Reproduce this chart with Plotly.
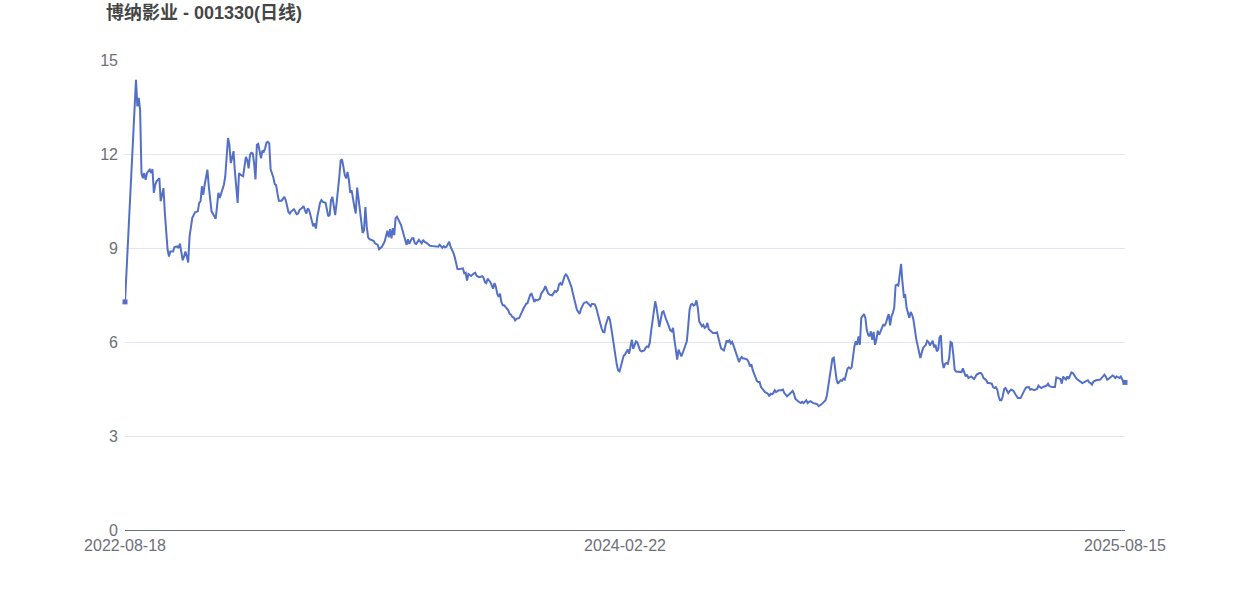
import plotly.graph_objects as go

# trading-day index (0 = 2022-08-18, 728 = 2025-08-15) and daily close
day = [
    0, 8, 9, 10, 11, 12, 13, 14, 15, 16, 17, 18, 19, 20, 21, 22, 23, 25, 26, 27, 28, 29, 30, 31, 32, 33, 35, 36, 38, 39,
    40, 41, 42, 43, 44, 45, 46, 47, 48, 49, 51, 53, 54, 55, 56, 57, 58, 59, 60, 61, 62, 63, 65, 66, 67, 68, 69, 70, 71, 72,
    73, 74, 75, 76, 77, 78, 79, 80, 81, 82, 83, 84, 86, 87,
    88, 89, 90, 91, 92, 93, 94, 95, 96, 97, 98, 99, 100, 101, 102, 103, 104, 105, 106, 107, 108, 109, 110, 111, 112, 114,
    115, 116, 117, 118, 119, 120, 121, 123, 124, 125, 126, 127, 129, 130, 131, 132, 133, 134, 135, 136, 137, 138, 139, 140,
    141, 142, 143, 144, 146, 147, 148, 149, 150, 151, 152, 153, 154, 155, 156, 157, 158, 159, 160, 161, 162, 163, 164, 165,
    166, 167, 168, 169, 170, 171, 172, 173, 174, 175,
    176, 177, 178, 179, 181, 182, 184, 185, 186, 187, 189, 190, 191, 192, 193, 194, 195, 196, 197, 198, 199, 200, 201, 203,
    204, 205, 206, 207, 208, 209, 210, 211, 212, 214, 215, 216, 217, 218, 220, 221, 222, 224, 226, 228, 229, 231, 232, 233,
    234, 235, 236, 237, 238, 239, 240, 241, 242, 243, 245, 246, 247, 248, 249, 250, 251, 252, 254, 255, 256, 257, 258, 260, 261,
    262, 263, 264, 266, 267, 268, 269, 270, 271, 272, 273, 274, 275, 276, 277, 279, 280, 281, 282, 283, 284, 285, 287, 288,
    289, 290, 291, 292, 293, 294, 295, 296, 297, 298, 299, 300, 301, 302, 303, 304, 305, 306, 307, 308, 309, 311, 312, 313,
    314, 315, 316, 317, 318, 319, 320, 321, 322, 323, 324, 325, 326, 327, 328, 329, 330, 331, 332, 333, 334, 336, 337, 338,
    339, 340, 342, 343, 344, 345, 346, 347, 348, 349,
    350, 352, 353, 354, 355, 356, 357, 358, 359, 360, 361, 362, 363, 364, 365, 366, 367, 368, 369, 370, 371, 372, 373, 374,
    375, 376, 378, 379, 380, 381, 382, 383, 384, 385, 386, 387, 388, 389, 390, 391, 392, 393, 394, 395, 396, 397, 398, 399,
    400, 401, 402, 403, 404, 405, 406, 407, 408, 409, 410, 411, 412, 413, 414, 415, 416, 417, 418, 419, 420, 421, 422, 423,
    424, 425, 426, 427, 428, 430, 431, 432, 433,
    434, 436, 437, 438, 439, 440, 441, 442, 443, 444, 445, 446, 447, 448, 449, 450, 451, 453, 454, 455, 456, 457, 458, 459,
    460, 461, 462, 463, 464, 465, 466, 468, 469, 470, 471, 472, 473, 474, 475, 476, 478, 479, 480, 481, 482, 484, 485, 486,
    487, 488, 490, 491, 492, 493, 494, 496, 497, 498, 499, 501, 502, 503, 504, 505, 507, 508, 509, 510, 511, 512, 513, 514,
    515, 516, 517, 518, 519, 520, 521, 522, 523, 524,
    525, 526, 527, 528, 529, 530, 531, 532, 533, 534, 535, 536, 537, 538, 539, 540, 541, 542, 543, 544, 545, 546, 547, 548,
    549, 550, 551, 552, 553, 554, 555, 556, 557, 558, 559, 560, 561, 562, 563, 564, 565, 566, 567, 568, 569, 570, 571, 572,
    573, 574, 575, 576, 577, 578, 579, 580, 581, 582, 583, 584, 585, 586, 587, 588, 589, 590, 591, 592, 593, 594, 595, 596,
    597, 598, 599, 600, 601, 602, 603, 604, 605, 606, 607, 608, 609, 610, 611,
    612, 613, 614, 616, 617, 618, 619, 620, 622, 623, 624, 625, 627, 628, 629, 630, 631, 632, 633, 634, 635, 636, 637, 638,
    639, 640, 641, 642, 643, 644, 645, 646, 647, 648, 649, 650, 652, 653, 654, 655, 656, 658, 659, 660, 661, 662, 664, 665,
    666, 667, 668, 670, 671, 672, 673, 675, 676, 677, 678, 679, 680, 681, 682, 683, 684, 685, 686, 687, 688, 689, 690, 691,
    692, 693, 694, 696, 697, 698, 699, 701, 702, 703, 704, 705, 707, 708, 709, 710, 712, 713, 714, 715, 716, 718, 719, 720,
    721, 722, 724, 725, 726, 727, 728,
]

close = [
    7.28, 14.37, 13.52, 13.79, 13.40, 11.39, 11.23, 11.39, 11.18, 11.39, 11.45, 11.50, 11.39, 11.52, 10.76, 11.02, 11.13,
    11.23, 10.49, 10.76, 10.91, 10.12, 9.59, 8.95, 8.73, 8.89, 8.89, 9.03, 9.05, 9.00,
    9.14, 8.86, 8.61, 8.73, 8.89, 8.73, 8.54, 9.37, 9.69, 9.96, 10.14, 10.17, 10.44, 10.49, 10.97, 10.70, 11.02, 11.23,
    11.50, 10.97, 10.44, 10.17, 10.01, 9.93, 10.33, 10.76, 10.60, 10.73, 10.86, 11.02,
    11.29, 11.82, 12.51, 12.30, 11.71, 11.87, 12.09, 11.45, 10.86, 10.44, 11.39, 11.34, 11.29, 11.55,
    11.91, 11.81, 11.54, 11.97, 12.04, 12.02, 11.70, 11.19, 12.29, 12.32, 12.02, 11.86, 12.11, 12.07, 12.18, 12.36, 12.39,
    12.34, 11.51, 11.38, 11.25, 11.04, 11.01, 10.74, 10.51, 10.51,
    10.58, 10.63, 10.53, 10.34, 10.15, 10.10, 10.17, 10.24, 10.15, 10.08, 10.10, 10.21, 10.28, 10.34, 10.21, 10.10, 10.26,
    10.21, 10.05, 9.83, 9.69, 9.78, 9.62, 9.99,
    10.26, 10.44, 10.53, 10.47, 10.44, 10.21, 10.01, 10.05, 10.53, 10.63, 10.31, 10.05, 10.42, 10.79, 11.27, 11.79, 11.83,
    11.59, 11.33, 11.22, 11.43, 11.17, 10.76, 10.84,
    10.53, 10.31, 10.10, 10.93, 10.58, 10.15, 9.73, 9.48, 9.57, 10.31,
    9.68, 9.34, 9.28, 9.26, 9.23, 9.15, 9.10, 8.96, 8.99, 9.04, 9.20, 9.36, 9.55, 9.34, 9.60, 9.31, 9.63, 9.41, 9.95, 10.00,
    9.89, 9.81, 9.73, 9.41,
    9.20, 9.10, 9.28, 9.13, 9.23, 9.31, 9.31, 9.15, 9.13, 9.26, 9.20, 9.15, 9.26, 9.20, 9.15, 9.09, 9.07, 9.06, 9.04, 9.04,
    9.10, 9.01, 9.06, 9.02,
    9.04, 9.15, 9.20, 9.04, 8.96, 8.85, 8.72, 8.51, 8.33, 8.32, 8.33, 8.35, 8.19, 8.21, 7.96, 8.17, 8.14, 8.11, 8.19, 8.21,
    8.11, 8.09, 8.07, 8.10, 8.05,
    7.91, 7.88, 8.02, 7.91, 7.81, 7.70, 7.88, 7.76, 7.54, 7.44, 7.54, 7.28, 7.17, 7.17, 7.12, 7.01, 6.90, 6.87, 6.80, 6.78,
    6.69, 6.74, 6.77, 6.85,
    6.96, 7.06, 7.17, 7.22, 7.24, 7.38, 7.51, 7.54, 7.38, 7.28, 7.35, 7.33, 7.35, 7.38, 7.54, 7.60, 7.67, 7.78, 7.65, 7.56,
    7.51, 7.49, 7.56, 7.63,
    7.60, 7.65, 7.84, 7.88, 7.81, 7.97, 8.10, 8.16, 8.10, 7.99, 7.88, 7.76, 7.56, 7.35, 7.17, 7.03, 6.96, 6.90, 7.06, 7.17,
    7.24, 7.28, 7.24, 7.17,
    7.14, 7.22, 7.20, 7.10, 6.90, 6.74, 6.59, 6.43, 6.32, 6.31,
    6.55, 6.82, 6.71, 6.45, 6.13, 5.91, 5.60, 5.28, 5.09, 5.06, 5.22, 5.44, 5.56, 5.60, 5.67, 5.76, 5.63, 5.91, 6.07, 5.78,
    5.91, 6.02, 5.99, 5.86,
    5.73, 5.70, 5.73, 5.81, 5.86, 5.84, 5.97, 6.34, 6.71, 7.01, 7.30, 7.09, 6.82, 6.48, 6.71, 6.95, 6.98, 6.82, 6.71, 6.61,
    6.50, 6.37, 6.34, 6.45,
    6.07, 5.81, 5.44, 5.76, 5.65, 5.54, 5.65, 5.76, 5.86, 6.02, 6.50, 7.03, 7.19, 7.22, 7.16, 7.19, 7.33, 7.09, 6.66, 6.55,
    6.50, 6.55, 6.45, 6.48,
    6.61, 6.41, 6.37, 6.31, 6.29, 6.29, 6.31, 6.13, 5.95,
    5.79, 5.73, 5.89, 6.05, 6.00, 6.05, 5.95, 6.00, 5.89, 5.76, 5.63, 5.47, 5.36, 5.47, 5.52, 5.47, 5.47, 5.44, 5.36, 5.22,
    5.29, 5.10, 4.99, 4.88,
    4.76, 4.72, 4.72, 4.56, 4.51, 4.48, 4.40, 4.35, 4.27, 4.35, 4.33, 4.37, 4.46, 4.40, 4.44, 4.46, 4.46, 4.48, 4.37, 4.30,
    4.27, 4.35, 4.40, 4.44,
    4.35, 4.19, 4.11, 4.09, 4.05, 4.09, 4.05, 4.14, 4.05, 4.09, 4.11, 4.05, 4.05, 4.03, 4.01, 3.95, 4.01, 4.05, 4.09, 4.14,
    4.30, 4.56, 4.88, 5.20,
    5.47, 5.50, 5.10, 4.80, 4.67, 4.72, 4.78, 4.76, 4.83, 4.80,
    4.96, 5.15, 5.19, 5.15, 5.19, 5.60, 5.86, 6.02, 5.91, 6.18, 5.91, 6.77, 6.82, 6.89, 6.77, 6.39, 6.23, 6.18, 6.34, 6.07,
    6.32, 5.91, 6.07, 6.36,
    6.23, 6.34, 6.45, 6.55, 6.53, 6.61, 6.77, 6.89, 6.53, 6.82, 6.93, 7.09, 7.81, 7.83, 7.80, 8.20, 8.49, 7.90, 7.46, 7.49,
    7.09, 6.93, 6.77, 6.96,
    6.87, 6.71, 6.35, 6.10, 5.90, 5.62, 5.49, 5.65, 5.81, 5.86, 5.91, 6.04, 6.00, 5.89, 5.97, 6.04, 5.83, 5.91, 5.70, 5.76,
    6.15, 6.21, 5.38, 5.17,
    5.30, 5.33, 5.30, 5.49, 6.00, 5.97, 5.60, 5.12, 5.06, 5.06, 5.04, 5.05, 5.04, 5.16, 5.01,
    4.90, 4.96, 4.85, 4.90, 4.85, 4.82, 4.88, 4.96, 5.01, 5.01, 4.96, 4.85, 4.78, 4.69, 4.69, 4.69, 4.67, 4.56, 4.53, 4.56,
    4.48, 4.27, 4.14, 4.14,
    4.27, 4.50, 4.53, 4.45, 4.37, 4.43, 4.48, 4.46, 4.43, 4.35, 4.29, 4.21, 4.21, 4.32, 4.39, 4.48, 4.55, 4.56, 4.48, 4.50,
    4.48, 4.46, 4.50, 4.61,
    4.56, 4.53, 4.56, 4.59, 4.61, 4.67, 4.59, 4.56, 4.56, 4.56, 4.87, 4.85, 4.85, 4.82, 4.67, 4.90, 4.84, 4.80, 4.90, 4.82,
    4.93, 5.03, 5.01, 4.96,
    4.88, 4.82, 4.78, 4.71, 4.69, 4.71, 4.74, 4.78, 4.71, 4.69, 4.64, 4.74, 4.78, 4.78, 4.80, 4.80, 4.90, 4.96, 4.90, 4.80,
    4.82, 4.90, 4.93, 4.90,
    4.85, 4.90, 4.85, 4.90, 4.82, 4.71, 4.71,
]

tick_days = [0, 364, 728]
tick_labels = ["2022-08-18", "2024-02-22", "2025-08-15"]
y_ticks = [0, 3, 6, 9, 12, 15]

assert len(day) == len(close), (len(day), len(close))

LINE = "#5470c6"
AXIS_TXT = "#6e7079"
FONT = "Liberation Sans, Arial, Noto Sans CJK SC, sans-serif"

fig = go.Figure()
fig.add_trace(go.Scatter(
    x=day, y=close, mode="lines",
    line=dict(color=LINE, width=2),
    hoverinfo="x+y", showlegend=False,
))
fig.add_trace(go.Scatter(
    x=[day[0], day[-1]], y=[close[0], close[-1]], mode="markers",
    marker=dict(symbol="square", size=5, color=LINE),
    hoverinfo="skip", showlegend=False, cliponaxis=False,
))

fig.update_layout(
    width=1250, height=600,
    margin=dict(l=125, r=125, t=60, b=70, autoexpand=False),
    paper_bgcolor="white", plot_bgcolor="white",
    font=dict(family=FONT, color=AXIS_TXT, size=16),
    title=dict(
        text="<b>博纳影业 - 001330(日线)</b>",
        x=106 / 1250, xanchor="left", xref="container",
        y=1 - 13 / 600, yanchor="middle", yref="container",
        font=dict(family=FONT, size=18, color="#464646"),
    ),
    xaxis=dict(
        range=[0, 728], tickmode="array", tickvals=tick_days, ticktext=tick_labels,
        showgrid=False, zeroline=False, showline=True, linecolor=AXIS_TXT, linewidth=1,
        ticks="", tickfont=dict(size=16, color=AXIS_TXT), ticklabelstandoff=1, automargin=False,
    ),
    yaxis=dict(
        range=[0, 15], tickmode="array", tickvals=y_ticks,
        showgrid=True, gridcolor="#e0e6f1", gridwidth=1, zeroline=False, showline=False,
        ticks="", tickfont=dict(size=16, color=AXIS_TXT), ticklabelstandoff=6, automargin=False,
    ),
)

fig.write_html(
    "out.html",
    config={"displayModeBar": False},
    post_script="document.body.style.margin='0';document.body.style.padding='0';",
)
